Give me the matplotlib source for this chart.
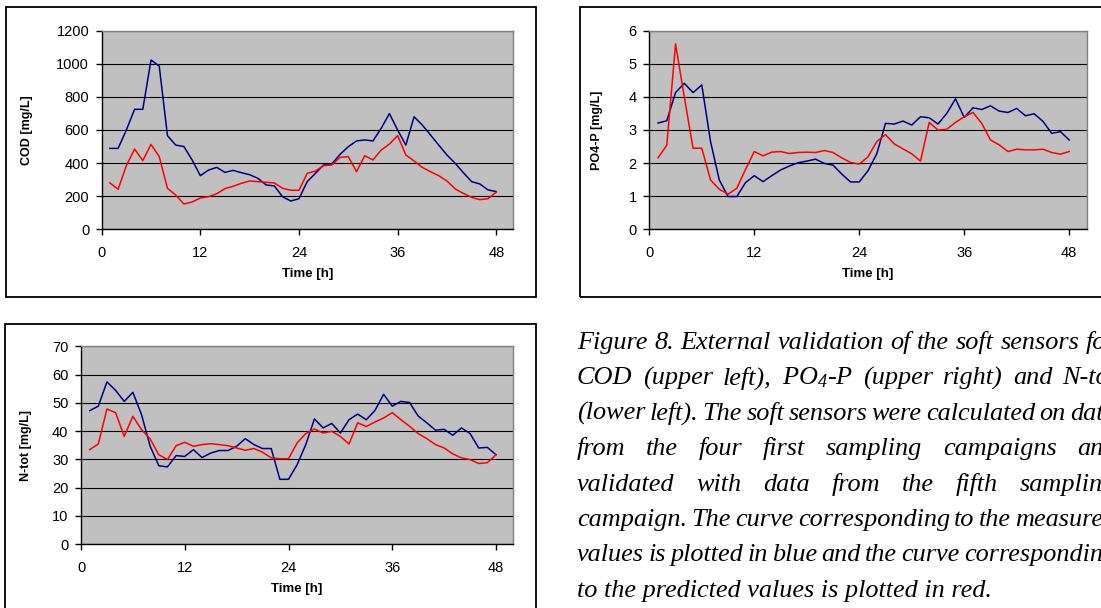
import matplotlib
matplotlib.use('Agg')
import matplotlib.pyplot as plt
from matplotlib.patches import Rectangle
import numpy as np

# hours of the fifth sampling campaign
hours = list(range(1, 49))

cod_meas = [489, 489, 600, 725, 725, 1023, 986, 566, 509, 500, 419, 324,
            358, 374, 344, 356, 342, 330, 308, 268, 262, 197, 171, 185,
            288, 338, 389, 395, 453, 499, 534, 540, 534, 610, 699, 600,
            509, 680, 630, 570, 509, 449, 399, 342, 288, 274, 238, 228]
cod_pred = [280, 242, 385, 485, 415, 513, 439, 248, 207, 153, 165, 189,
            197, 215, 246, 260, 278, 292, 288, 284, 280, 248, 236, 236,
            338, 352, 385, 389, 435, 439, 348, 445, 419, 479, 515, 566,
            449, 413, 374, 348, 324, 292, 244, 217, 193, 179, 185, 225]

po4_meas = [3.21, 3.28, 4.13, 4.41, 4.13, 4.36, 2.65, 1.49, 0.99, 0.99, 1.41, 1.62,
            1.44, 1.62, 1.79, 1.91, 2.01, 2.06, 2.12, 1.99, 1.94, 1.67, 1.43, 1.43,
            1.77, 2.28, 3.20, 3.18, 3.27, 3.15, 3.40, 3.37, 3.18, 3.50, 3.94, 3.38,
            3.67, 3.62, 3.73, 3.57, 3.53, 3.65, 3.43, 3.49, 3.26, 2.90, 2.95, 2.70]
po4_pred = [2.16, 2.54, 5.60, 4.00, 2.45, 2.45, 1.49, 1.21, 1.06, 1.24, 1.81, 2.35,
            2.22, 2.33, 2.35, 2.29, 2.32, 2.33, 2.32, 2.38, 2.32, 2.16, 2.02, 1.97,
            2.19, 2.65, 2.86, 2.58, 2.43, 2.28, 2.06, 3.23, 3.00, 3.02, 3.23, 3.40,
            3.53, 3.20, 2.70, 2.55, 2.35, 2.42, 2.40, 2.40, 2.42, 2.32, 2.27, 2.35]

ntot_meas = [47.2, 48.8, 57.4, 54.4, 50.5, 53.7, 45.8, 34.6, 27.7, 27.3, 31.3, 31.0,
             33.4, 30.6, 32.2, 33.1, 33.1, 34.6, 37.3, 35.2, 33.8, 33.8, 22.9, 22.9,
             28.1, 35.2, 44.3, 41.1, 42.7, 39.3, 44.0, 46.0, 44.0, 47.3, 53.0, 48.8,
             50.5, 50.1, 45.3, 42.9, 40.3, 40.6, 38.5, 41.1, 39.1, 34.0, 34.2, 31.6]
ntot_pred = [33.4, 35.4, 47.8, 46.5, 38.1, 45.2, 40.5, 37.2, 31.6, 29.9, 34.8, 36.0,
             34.6, 35.2, 35.5, 35.2, 34.8, 34.0, 33.2, 33.8, 32.5, 30.5, 30.2, 30.2,
             35.8, 39.1, 40.7, 39.3, 39.9, 38.1, 35.4, 42.9, 41.6, 43.2, 44.6, 46.5,
             44.0, 41.7, 39.1, 37.3, 35.2, 34.0, 31.9, 30.5, 29.9, 28.5, 28.8, 31.6]

x_ticks = [0, 12, 24, 36, 48]

caption = [
    'Figure 8. External validation of the soft sensors for',
    'COD (upper left), PO$_4$-P (upper right) and N-tot',
    '(lower left). The soft sensors were calculated on data',
    'from the four first sampling campaigns and',
    'validated with data from the fifth sampling',
    'campaign. The curve corresponding to the measured',
    'values is plotted in blue and the curve corresponding',
    'to the predicted values is plotted in red.',
]

W, H = 1101, 608
plt.rcParams['font.family'] = 'Liberation Sans'
plt.rcParams['mathtext.fontset'] = 'custom'
plt.rcParams['mathtext.rm'] = 'Liberation Serif:italic'
plt.rcParams['mathtext.it'] = 'Liberation Serif:italic'

fig = plt.figure(figsize=(W / 100, H / 100), dpi=100)
fig.patch.set_facecolor('white')


def px_axes(left, top, right, bottom):
    '''axes from pixel box (origin top left)'''
    return fig.add_axes([left / W, 1 - bottom / H, (right - left) / W,
                         (bottom - top) / H])


def frame(left, top, right, bottom):
    fig.patches.append(Rectangle((left / W, 1 - bottom / H), (right - left) / W,
                                 (bottom - top) / H, transform=fig.transFigure,
                                 fill=False, edgecolor='black', linewidth=1.3))


def excel_chart(ax, meas, pred, ymax, ystep, ylabel, label_x):
    ax.set_facecolor('#c0c0c0')
    ax.plot(hours, meas, color='#000080', linewidth=1.1)
    ax.plot(hours, pred, color='#ff0000', linewidth=1.1)
    ax.set_xlim(0, 50)
    ax.set_ylim(0, ymax)
    ax.set_xticks(x_ticks)
    ax.set_yticks(np.arange(0, ymax + ystep / 2, ystep))
    ax.yaxis.grid(True, color='black', linewidth=0.8)
    ax.set_axisbelow(True)
    for side in ['top', 'right']:
        ax.spines[side].set_color('#808080')
        ax.spines[side].set_linewidth(1.0)
    for side in ['left', 'bottom']:
        ax.spines[side].set_color('black')
        ax.spines[side].set_linewidth(1.0)
    ax.tick_params(axis='both', direction='out', length=4, width=1,
                   labelsize=10.5)
    ax.tick_params(axis='x', pad=8)
    ax.tick_params(axis='y', pad=5)
    ax.set_xlabel('Time [h]', fontsize=9.5, fontweight='bold', labelpad=6)
    ax.set_ylabel(ylabel, fontsize=9, fontweight='bold')
    ax.yaxis.set_label_coords(label_x, 0.5)


frame(6, 7.5, 535.7, 297.5)
frame(580.3, 7.5, 1110, 297.5)
frame(5, 324, 535.7, 620)

ax1 = px_axes(101.7, 30.7, 512.7, 229.3)
excel_chart(ax1, cod_meas, cod_pred, 1200, 200, 'COD [mg/L]', -0.167)
ax2 = px_axes(649.3, 30.7, 1086.7, 229.3)
excel_chart(ax2, po4_meas, po4_pred, 6, 1, 'PO4-P [mg/L]', -0.105)
ax3 = px_axes(81, 346.3, 513.3, 544)
excel_chart(ax3, ntot_meas, ntot_pred, 70, 10, 'N-tot [mg/L]', -0.114)

# caption, justified like the original text block (cut at the right edge)
renderer = fig.canvas.get_renderer()
cap_font = dict(family='Liberation Serif', style='italic', fontsize=18.9)
cap_left = 577
cap_base = 349
cap_step = 35.4


def text_width(s):
    t = fig.text(0, 0, s, **cap_font)
    w = t.get_window_extent(renderer).width
    t.remove()
    return w


cap_right = cap_left + text_width(caption[0])
for i, line in enumerate(caption):
    y = 1 - (cap_base + i * cap_step) / H
    words = line.split(' ')
    if i == len(caption) - 1:
        fig.text(cap_left / W, y, line, va='baseline', **cap_font)
        continue
    widths = [text_width(w) for w in words]
    gap = (cap_right - cap_left - sum(widths)) / (len(words) - 1)
    x = cap_left
    for w, wd in zip(words, widths):
        fig.text(x / W, y, w, va='baseline', **cap_font)
        x += wd + gap

fig.savefig('out.png', dpi=100)
